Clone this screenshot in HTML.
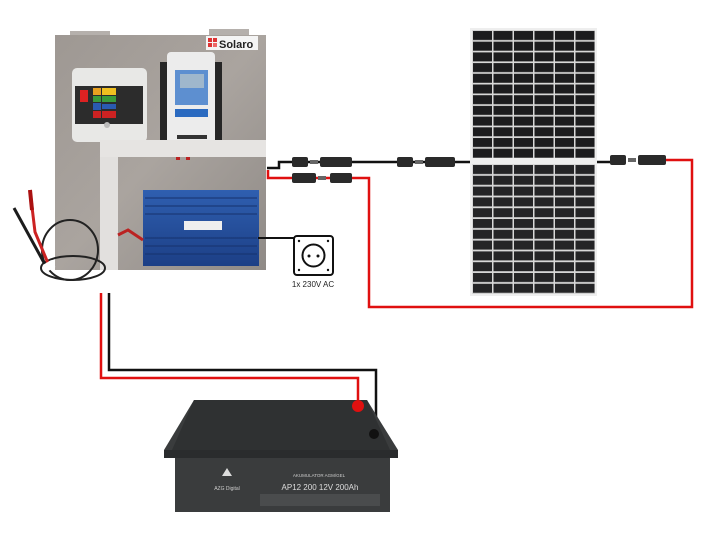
<!DOCTYPE html>
<html><head><meta charset="utf-8"><style>
html,body{margin:0;padding:0;background:#fff;}
svg{display:block;}
text{font-family:"Liberation Sans",sans-serif;}
</style></head><body>
<svg width="720" height="541" viewBox="0 0 720 541" xmlns="http://www.w3.org/2000/svg">
<defs>
<linearGradient id="board" x1="0" y1="0" x2="1" y2="1">
<stop offset="0" stop-color="#9e9893"/><stop offset="0.5" stop-color="#aaa49f"/><stop offset="1" stop-color="#8f8a86"/>
</linearGradient>
<pattern id="cells" x="472" y="30" width="20.5" height="10.7" patternUnits="userSpaceOnUse">
<rect width="20.5" height="10.7" fill="#d8d8d8"/>
<rect x="1" y="1" width="19" height="9" fill="#1c1c1e"/>
</pattern>
<pattern id="cells2" x="472" y="164" width="20.5" height="10.8" patternUnits="userSpaceOnUse">
<rect width="20.5" height="10.8" fill="#d8d8d8"/>
<rect x="1" y="1" width="19" height="9" fill="#242426"/>
</pattern>
<linearGradient id="inv" x1="0" y1="0" x2="0" y2="1">
<stop offset="0" stop-color="#2f5fb0"/><stop offset="1" stop-color="#1c3f86"/>
</linearGradient>
</defs>

<!-- board tabs -->
<rect x="70" y="31" width="40" height="6" fill="#b5b0ac"/>
<rect x="209" y="29" width="40" height="6" fill="#b5b0ac"/>
<!-- board -->
<rect x="55" y="35" width="211" height="235" fill="url(#board)"/>
<!-- Solaro logo -->
<rect x="206" y="36" width="52" height="14" fill="#f4f4f4"/>
<rect x="208" y="38" width="4" height="4" fill="#d33"/><rect x="213" y="38" width="4" height="4" fill="#d33"/>
<rect x="208" y="43" width="4" height="4" fill="#d33"/><rect x="213" y="43" width="4" height="4" fill="#e66"/>
<text x="219" y="48" font-size="11" font-weight="bold" fill="#222">Solaro</text>

<!-- breaker box -->
<rect x="72" y="68" width="75" height="74" rx="5" fill="#e8e8e6"/>
<rect x="75" y="86" width="68" height="38" fill="#2c2c2c"/>
<rect x="80" y="90" width="8" height="12" fill="#d22"/>
<rect x="93" y="88" width="8" height="7" fill="#e8a020"/>
<rect x="102" y="88" width="14" height="7" fill="#f0c020"/>
<rect x="93" y="96" width="8" height="6" fill="#3a9a3a"/>
<rect x="102" y="96" width="14" height="6" fill="#3a9a3a"/>
<rect x="93" y="103" width="8" height="7" fill="#2a5ab0"/>
<rect x="102" y="104" width="14" height="5" fill="#2a5ab0"/>
<rect x="93" y="111" width="8" height="7" fill="#c22"/>
<rect x="102" y="111" width="14" height="7" fill="#c22"/>
<circle cx="107" cy="125" r="3" fill="#bbb"/>

<!-- charge controller -->
<rect x="160" y="62" width="62" height="89" fill="#262626"/>
<rect x="167" y="52" width="48" height="96" rx="4" fill="#ececec"/>
<rect x="175" y="70" width="33" height="35" fill="#5d8fd0"/>
<rect x="180" y="74" width="24" height="14" fill="#9fb7cc"/>
<rect x="175" y="109" width="33" height="8" fill="#2a6ac0"/>
<rect x="177" y="135" width="30" height="4" fill="#333"/>
<rect x="176" y="148" width="4" height="12" fill="#b22"/><rect x="186" y="148" width="4" height="12" fill="#b22"/>

<!-- duct -->
<rect x="100" y="140" width="18" height="130" fill="#e2e0de"/>
<rect x="100" y="140" width="166" height="17" fill="#e6e4e2"/>

<!-- inverter -->
<rect x="143" y="190" width="116" height="76" fill="url(#inv)"/>
<g stroke="#16326d" stroke-width="1">
<line x1="145" y1="198" x2="257" y2="198"/><line x1="145" y1="206" x2="257" y2="206"/>
<line x1="145" y1="214" x2="257" y2="214"/><line x1="145" y1="238" x2="257" y2="238"/>
<line x1="145" y1="246" x2="257" y2="246"/><line x1="145" y1="254" x2="257" y2="254"/>
</g>
<rect x="184" y="221" width="38" height="9" fill="#eee"/>
<path d="M118 235 L128 230 L143 240" stroke="#b22" stroke-width="3" fill="none"/>

<!-- battery cables coil -->
<ellipse cx="70" cy="250" rx="28" ry="30" fill="none" stroke="#222" stroke-width="2"/>
<ellipse cx="73" cy="268" rx="32" ry="12" fill="none" stroke="#222" stroke-width="2"/>
<path d="M14 208 L48 270" stroke="#1c1c1c" stroke-width="3"/>
<path d="M30 190 L35 232 L50 268" stroke="#c22" stroke-width="3" fill="none"/>
<path d="M30 190 L32 210" stroke="#a11" stroke-width="4"/>
<rect x="44" y="262" width="10" height="8" fill="#fff" transform="rotate(-30 49 266)"/>

<!-- PV wires -->
<path d="M267 168 H279 V162 H470" stroke="#111" stroke-width="2.5" fill="none"/>
<path d="M268 170 V178 H369 V307 H692 V160 H665" stroke="#e01010" stroke-width="2.5" fill="none"/>
<path d="M595 162 H620" stroke="#111" stroke-width="2.5"/>
<g fill="#2a2a2a">
<rect x="292" y="157" width="16" height="10" rx="2"/><rect x="310" y="160" width="8" height="4" fill="#666"/><rect x="320" y="157" width="32" height="10" rx="2"/>
<rect x="292" y="173" width="24" height="10" rx="2"/><rect x="318" y="176" width="8" height="4" fill="#666"/><rect x="330" y="173" width="22" height="10" rx="2"/>
<rect x="397" y="157" width="16" height="10" rx="2"/><rect x="415" y="160" width="8" height="4" fill="#666"/><rect x="425" y="157" width="30" height="10" rx="2"/>
<rect x="610" y="155" width="16" height="10" rx="2"/><rect x="628" y="158" width="8" height="4" fill="#666"/><rect x="638" y="155" width="28" height="10" rx="2"/>
</g>

<!-- solar panel -->
<rect x="470" y="28" width="127" height="268" fill="#eee"/>
<rect x="472" y="30" width="123" height="128" fill="url(#cells)"/>
<rect x="472" y="164" width="123" height="130" fill="url(#cells2)"/>

<!-- AC socket -->
<path d="M258 238 H295" stroke="#111" stroke-width="2"/>
<rect x="294" y="236" width="39" height="39" rx="3" fill="#fff" stroke="#111" stroke-width="2"/>
<circle cx="313.5" cy="255.5" r="11" fill="none" stroke="#111" stroke-width="2"/>
<circle cx="309" cy="256" r="1.5" fill="#111"/><circle cx="318" cy="256" r="1.5" fill="#111"/>
<circle cx="299" cy="241" r="1.2" fill="#111"/><circle cx="328" cy="241" r="1.2" fill="#111"/>
<circle cx="299" cy="270" r="1.2" fill="#111"/><circle cx="328" cy="270" r="1.2" fill="#111"/>
<text x="313" y="287" font-size="8" text-anchor="middle" fill="#222">1x 230V AC</text>

<!-- battery wires -->
<path d="M101 293 V378 H358 V405" stroke="#e01010" stroke-width="2.5" fill="none"/>
<path d="M109 293 V370 H376 V435" stroke="#111" stroke-width="2.5" fill="none"/>

<!-- battery -->
<path d="M194 400 L367 400 L398 450 L398 458 L390 458 L390 512 L175 512 L175 458 L164 458 L164 450 Z" fill="#3a3c3d"/>
<path d="M194 400 L367 400 L390 450 L172 450 Z" fill="#2f3132"/>
<rect x="164" y="450" width="234" height="8" fill="#2a2c2d"/>
<circle cx="358" cy="406" r="6" fill="#e01010"/>
<circle cx="374" cy="434" r="5" fill="#111"/>
<path d="M222 476 L227 468 L232 476 Z" fill="#ddd"/>
<text x="227" y="490" font-size="5" text-anchor="middle" fill="#ccc">AZG Digital</text>
<text x="319" y="477" font-size="4.5" text-anchor="middle" fill="#ccc">AKUMULATOR AGM/GEL</text>
<text x="320" y="490" font-size="8" text-anchor="middle" fill="#ddd">AP12 200 12V 200Ah</text>
<rect x="260" y="494" width="120" height="12" fill="#4a4c4d"/>
</svg>
</body></html>
